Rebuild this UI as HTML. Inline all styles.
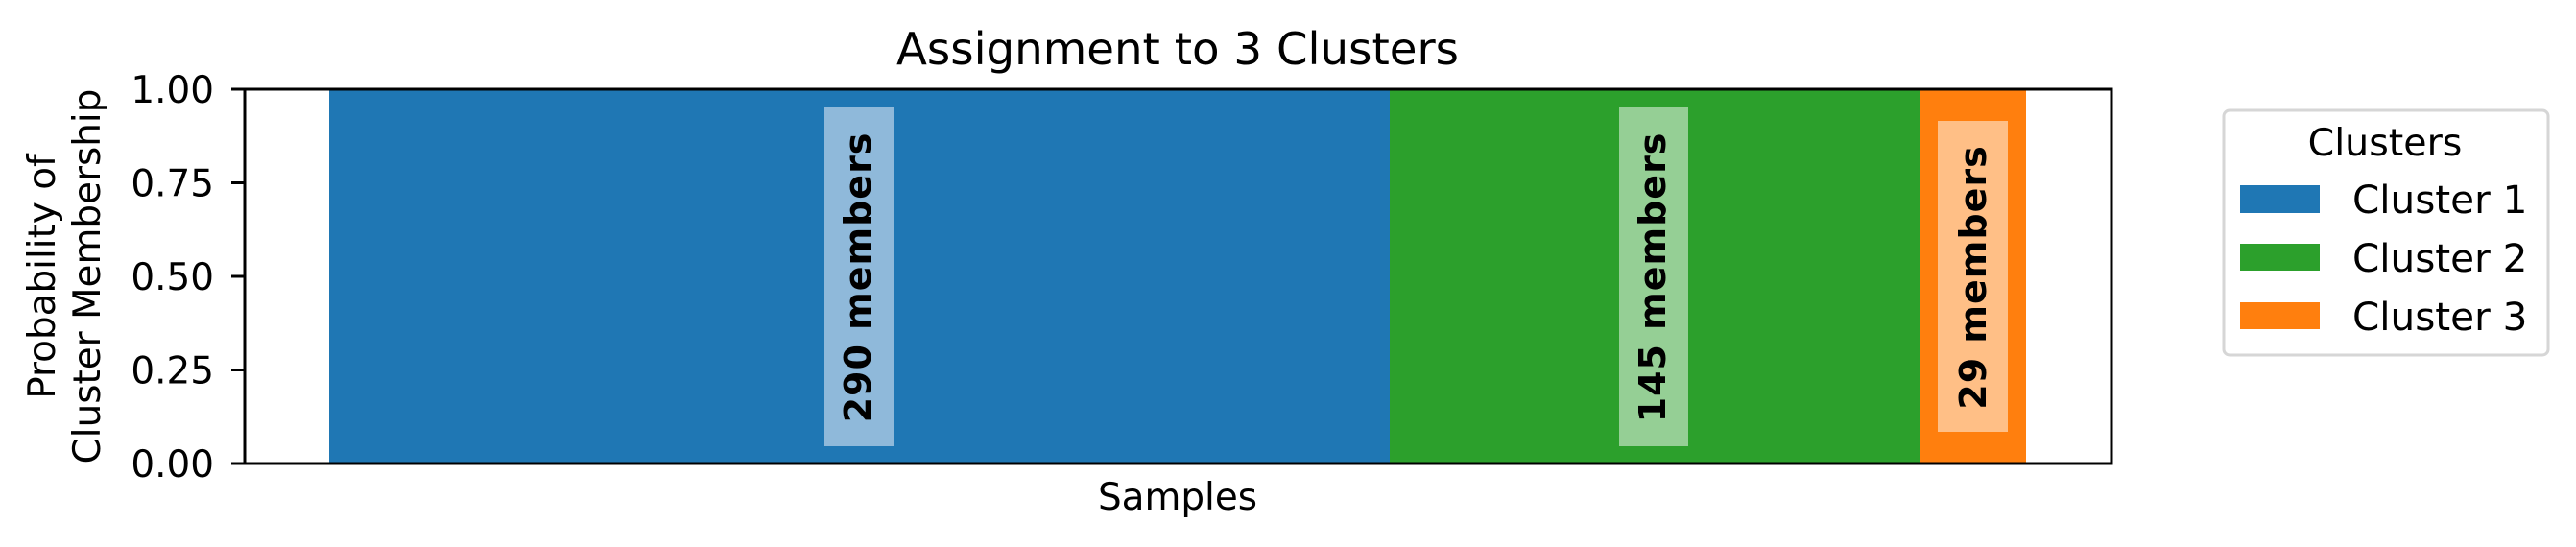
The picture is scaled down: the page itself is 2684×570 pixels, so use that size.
<!DOCTYPE html>
<html><head><meta charset="utf-8"><style>
html,body{margin:0;padding:0;background:#fff;}
svg{display:block;}
text{font-family:"DejaVu Sans","Liberation Sans",sans-serif;fill:#000;}
</style></head><body>
<svg width="2684" height="570" viewBox="0 0 2684 570" xmlns="http://www.w3.org/2000/svg">
<rect width="2684" height="570" fill="#fff"/>
<text x="1227" y="67" font-size="46.7" text-anchor="middle">Assignment to 3 Clusters</text>
<rect x="343" y="93" width="1105" height="390" fill="#1f77b4"/>
<rect x="1448" y="93" width="552" height="390" fill="#2ca02c"/>
<rect x="2000" y="93" width="111" height="390" fill="#ff7f0e"/>
<rect x="859" y="112" width="72" height="353" fill="#8fb9da"/>
<rect x="1687" y="112" width="72" height="353" fill="#95cf95"/>
<rect x="2019" y="126" width="73" height="324" fill="#ffbf86"/>
<text transform="translate(907,289) rotate(-90)" font-size="38" font-weight="bold" letter-spacing="1" text-anchor="middle">290 members</text>
<text transform="translate(1735,289) rotate(-90)" font-size="38" font-weight="bold" letter-spacing="1" text-anchor="middle">145 members</text>
<text transform="translate(2069,289) rotate(-90)" font-size="38" font-weight="bold" letter-spacing="1" text-anchor="middle">29 members</text>
<rect x="255" y="93" width="1945" height="390" fill="none" stroke="#000" stroke-width="3"/>
<g stroke="#000" stroke-width="3">
<line x1="241" y1="93" x2="255" y2="93"/><line x1="241" y1="190.5" x2="255" y2="190.5"/><line x1="241" y1="288" x2="255" y2="288"/><line x1="241" y1="385.5" x2="255" y2="385.5"/><line x1="241" y1="483" x2="255" y2="483"/>
</g>
<g font-size="38.9" text-anchor="end">
<text x="223" y="107">1.00</text><text x="223" y="204.5">0.75</text><text x="223" y="302">0.50</text><text x="223" y="399.5">0.25</text><text x="223" y="497">0.00</text>
</g>
<text transform="translate(57,288) rotate(-90)" font-size="38.9" text-anchor="middle">Probability of</text>
<text transform="translate(104,288) rotate(-90)" font-size="38.9" text-anchor="middle">Cluster Membership</text>
<text x="1227" y="531" font-size="38.9" text-anchor="middle">Samples</text>
<rect x="2317" y="115" width="338" height="255" rx="6" fill="#fff" stroke="#d6d6d6" stroke-width="3"/>
<text x="2485" y="162" font-size="39.5" text-anchor="middle">Clusters</text>
<rect x="2334" y="193" width="83" height="29" fill="#1f77b4"/>
<rect x="2334" y="254" width="83" height="28" fill="#2ca02c"/>
<rect x="2334" y="315" width="83" height="28" fill="#ff7f0e"/>
<g font-size="40.5">
<text x="2451" y="222">Cluster 1</text><text x="2451" y="283">Cluster 2</text><text x="2451" y="344">Cluster 3</text>
</g>
</svg>
</body></html>
